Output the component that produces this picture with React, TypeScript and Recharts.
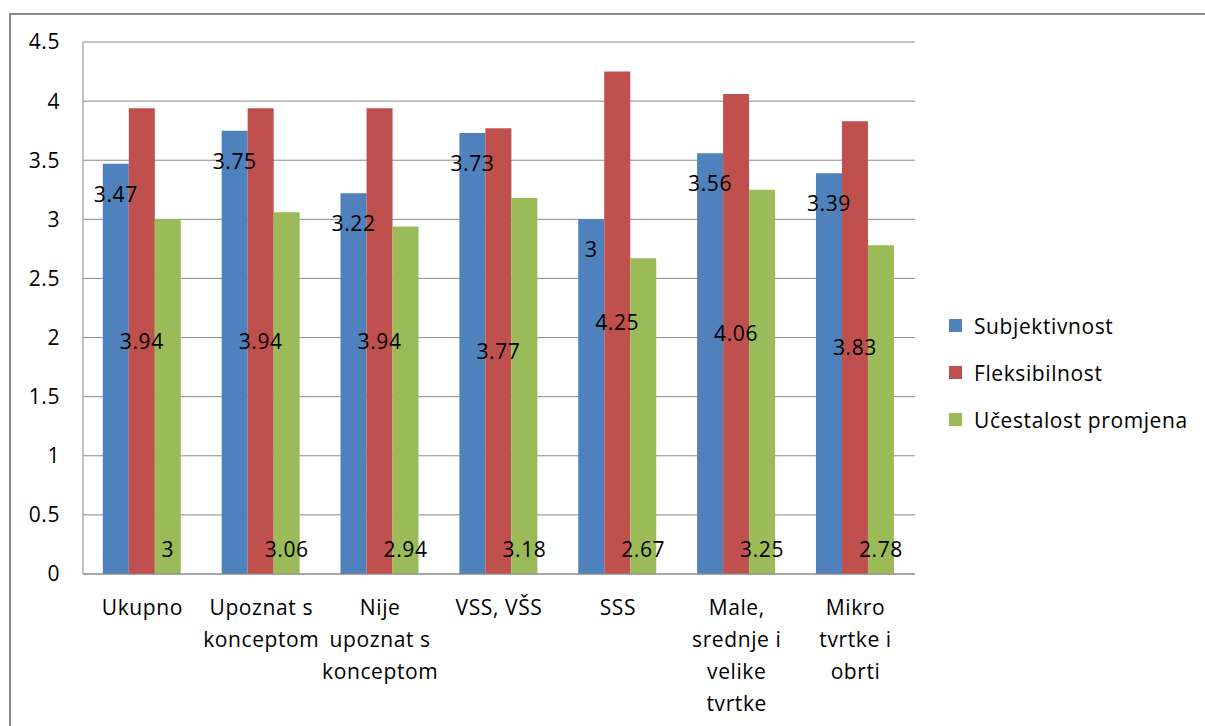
import React from "react";
import { BarChart, Bar, XAxis, YAxis, CartesianGrid, Legend, LabelList } from "recharts";

const categories = [
  "Ukupno",
  "Upoznat s konceptom",
  "Nije upoznat s konceptom",
  "VSS, VŠS",
  "SSS",
  "Male, srednje i velike tvrtke",
  "Mikro tvrtke i obrti",
];
const categoryLines = [
  ["Ukupno"],
  ["Upoznat s", "konceptom"],
  ["Nije", "upoznat s", "konceptom"],
  ["VSS, VŠS"],
  ["SSS"],
  ["Male,", "srednje i", "velike", "tvrtke"],
  ["Mikro", "tvrtke i", "obrti"],
];
const subjektivnost = [3.47, 3.75, 3.22, 3.73, 3, 3.56, 3.39];
const fleksibilnost = [3.94, 3.94, 3.94, 3.77, 4.25, 4.06, 3.83];
const ucestalost = [3, 3.06, 2.94, 3.18, 2.67, 3.25, 2.78];
const yTicks = [0, 0.5, 1, 1.5, 2, 2.5, 3, 3.5, 4, 4.5];

const seriesNames = ["Subjektivnost", "Fleksibilnost", "Učestalost promjena"];
const seriesColors = ["#4F81BD", "#C0504D", "#9BBB59"];

const data = categories.map((c, i) => ({
  name: c,
  s: subjektivnost[i],
  f: fleksibilnost[i],
  u: ucestalost[i],
}));

const FONT = "'Open Sans', sans-serif";
const FS = 21;
const LS = 0.6;

const XTick = (props: any) => {
  const { x, y, index } = props;
  const lines = categoryLines[index] || [];
  return (
    <text x={x} y={y} textAnchor="middle" fill="#000" fontSize={FS} fontFamily={FONT} letterSpacing={LS}>
      {lines.map((l: string, i: number) => (
        <tspan key={i} x={x} y={y + 39 + i * 32}>
          {l}
        </tspan>
      ))}
    </text>
  );
};

const LegendContent = () => (
  <div style={{ fontFamily: FONT, fontSize: FS, color: "#000", letterSpacing: LS }}>
    {seriesNames.map((n, i) => (
      <div key={n} style={{ display: "flex", alignItems: "center", height: 47 }}>
        <span style={{ display: "inline-block", width: 13, height: 13, background: seriesColors[i], marginRight: 12 }} />
        <span>{n}</span>
      </div>
    ))}
  </div>
);

const labelProps = { fill: "#000", fontSize: FS, fontFamily: FONT, letterSpacing: LS };

export default function App() {
  return (
    <div style={{ position: "absolute", left: 0, top: 0, width: 1205, height: 726, overflow: "hidden", background: "#fff" }}>
      <div style={{ position: "absolute", left: 9, top: 13, width: 1300, height: 800, border: "2px solid #8a8a8a" }} />
      <div style={{ position: "absolute", left: 0, top: 0 }}>
        <BarChart
          width={1205}
          height={726}
          data={data}
          margin={{ top: 42, left: 23, right: 290, bottom: 12 }}
          barCategoryGap="16.67%"
          barGap={0}
        >
          <CartesianGrid horizontal={true} vertical={false} stroke="#8a8a8a" strokeWidth={1} />
          <XAxis
            dataKey="name"
            height={140}
            tick={<XTick />}
            tickLine={false}
            tickSize={0}
            axisLine={{ stroke: "#8a8a8a" }}
            interval={0}
          />
          <YAxis
            width={60}
            domain={[0, 4.5]}
            ticks={yTicks}
            tickLine={false}
            tickSize={0}
            tickMargin={23}
            axisLine={{ stroke: "#8a8a8a" }}
            tick={{ fill: "#000", fontSize: FS, fontFamily: FONT, letterSpacing: LS }}
            tickFormatter={(v: number) => String(v)}
          />
          <Legend
            layout="horizontal"
            align="center"
            verticalAlign="middle"
            content={<LegendContent />}
            wrapperStyle={{ position: "absolute", left: 949, top: 302, width: 256 }}
          />
          <Bar dataKey="s" name={seriesNames[0]} fill={seriesColors[0]} isAnimationActive={false}>
            <LabelList dataKey="s" position="insideTop" offset={23} {...labelProps} />
          </Bar>
          <Bar dataKey="f" name={seriesNames[1]} fill={seriesColors[1]} isAnimationActive={false}>
            <LabelList dataKey="f" position="center" {...labelProps} />
          </Bar>
          <Bar dataKey="u" name={seriesNames[2]} fill={seriesColors[2]} isAnimationActive={false}>
            <LabelList dataKey="u" position="insideBottom" offset={17} {...labelProps} />
          </Bar>
        </BarChart>
      </div>
    </div>
  );
}
